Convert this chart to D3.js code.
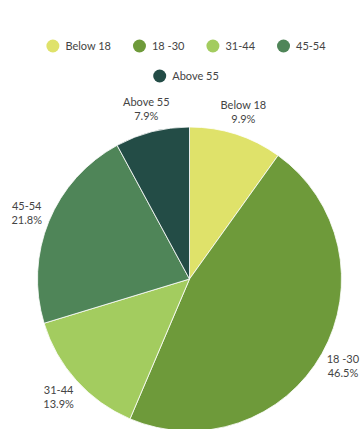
<!DOCTYPE html>
<html>
<head>
<meta charset="utf-8">
<script src="https://cdn.jsdelivr.net/npm/d3@7"></script>
<style>
  html, body { margin: 0; padding: 0; background: #fff; }
  svg text { font-family: Lato, "Open Sans", sans-serif; fill: #444; }
</style>
</head>
<body>
<svg id="chart" width="362" height="429"></svg>
<script>
// Age groups and their share of respondents (%)
const categories = ["Below 18", "18 -30", "31-44", "45-54", "Above 55"];
const shares = [9.9, 46.5, 13.9, 21.8, 7.9];
const colors = ["#dfe26a", "#6e9a3a", "#a3cc5f", "#4f8558", "#234c46"];
const legendRows = [["Below 18", "18 -30", "31-44", "45-54"], ["Above 55"]];

const width = 362, height = 429;
const cx = 189.5, cy = 279, radius = 152, labelRadius = 176;

const svg = d3.select("#chart");
const color = d3.scaleOrdinal().domain(categories).range(colors);

const data = categories.map((c, i) => ({ name: c, value: shares[i] }));

// Pie slices, clockwise from 12 o'clock in data order
const pie = d3.pie().value(d => d.value).sort(null);
const arc = d3.arc().innerRadius(0).outerRadius(radius);
const labelArc = d3.arc().innerRadius(labelRadius).outerRadius(labelRadius);

const g = svg.append("g").attr("transform", `translate(${cx},${cy})`);
const arcs = pie(data);

g.selectAll("path.slice")
  .data(arcs)
  .join("path")
  .attr("class", "slice")
  .attr("d", arc)
  .attr("fill", d => color(d.data.name))
  .attr("stroke", "#fff")
  .attr("stroke-width", 0.8);

// Two-line labels outside the pie: category name and percentage
const labels = g.selectAll("text.lbl")
  .data(arcs)
  .join("text")
  .attr("class", "lbl")
  .attr("text-anchor", "middle")
  .attr("font-size", 11)
  .attr("transform", d => {
    const [x, y] = labelArc.centroid(d);
    return `translate(${x},${y})`;
  });
labels.append("tspan").attr("x", 0).attr("dy", "-0.2em").text(d => d.data.name);
labels.append("tspan").attr("x", 0).attr("dy", "1.25em").text(d => d.data.value.toFixed(1) + "%");

// Legend: centred rows of dot + label
const legend = svg.append("g");
const rowY = [46, 76];
const dotR = 6.5, dotGap = 6, itemGap = 22, legendCenter = 186;

legendRows.forEach((row, ri) => {
  const rowG = legend.append("g");
  let x = 0;
  row.forEach(name => {
    const item = rowG.append("g").attr("transform", `translate(${x},0)`);
    item.append("circle").attr("cx", dotR).attr("cy", 0).attr("r", dotR).attr("fill", color(name));
    const t = item.append("text")
      .attr("x", dotR * 2 + dotGap)
      .attr("y", 0)
      .attr("dy", "0.35em")
      .attr("font-size", 11)
      .text(name);
    x += dotR * 2 + dotGap + t.node().getComputedTextLength() + itemGap;
  });
  const rowW = x - itemGap;
  rowG.attr("transform", `translate(${legendCenter - rowW / 2},${rowY[ri]})`);
});
</script>
</body>
</html>
